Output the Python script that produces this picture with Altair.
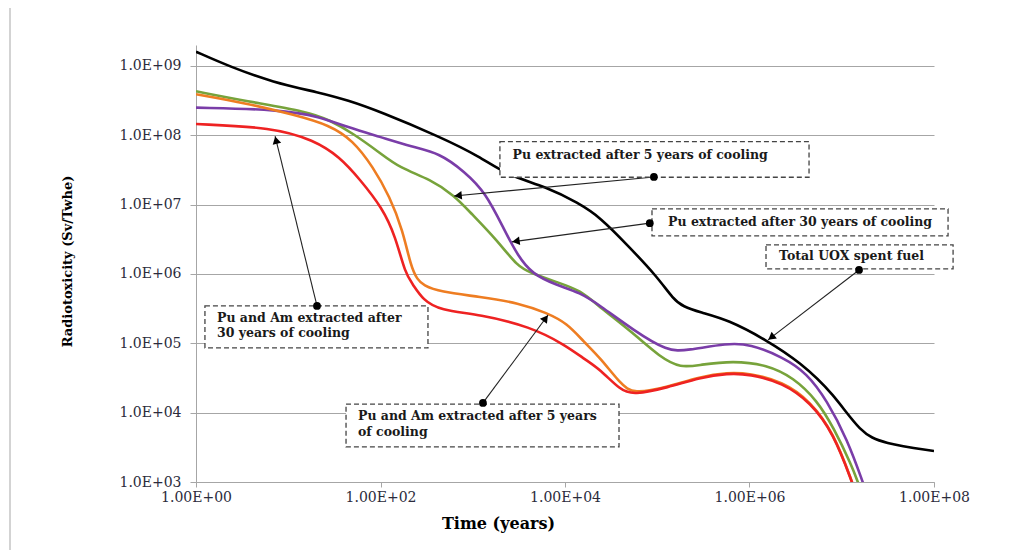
import math
import pandas as pd
import altair as alt

# ---------------- data ----------------
series_names = ["Total UOX spent fuel", "Pu extracted after 5 years",
                "Pu extracted after 30 years", "Pu and Am extracted after 5 years",
                "Pu and Am extracted after 30 years"]
series_colors = ["#000000", "#77A33B", "#7A3DA8", "#EE7D22", "#EE2222"]

total_t = [1, 2.3, 6.8, 22, 44, 98, 440, 1200, 2300, 6300, 1.4e4, 2.4e4, 4.9e4,
           1.0e5, 1.5e5, 1.9e5, 2.9e5, 5.8e5, 1.55e6, 3.5e6, 8.1e6, 1.6e7, 2.8e7, 1e8]
total_v = [1.6e9, 9.8e8, 5.8e8, 4.1e8, 3.2e8, 2.2e8, 9.5e7, 4.9e7, 2.7e7, 1.8e7, 1.05e7,
           6.6e6, 2.5e6, 9.1e5, 4.3e5, 3.4e5, 2.8e5, 2.2e5, 1.1e5, 5.4e4, 1.9e4, 5.1e3,
           3.6e3, 2.8e3]

pu5_t = [1, 3.5, 16, 28, 50, 98, 160, 350, 630, 950, 1820, 3100, 4200, 8100, 1.45e4,
         2.4e4, 5.5e4, 1.07e5, 1.8e5, 2.9e5, 6.6e5, 1.55e6, 3.0e6, 5.4e6, 8.1e6, 1.3e7,
         1.5e7, 1.7e7]
pu5_v = [4.3e8, 3.1e8, 2.2e8, 1.66e8, 1.07e8, 5.6e7, 3.4e7, 2.3e7, 1.35e7, 7.6e6, 3.1e6,
         1.26e6, 1.05e6, 7.6e5, 5.9e5, 3.3e5, 1.4e5, 6.3e4, 4.4e4, 4.9e4, 5.6e4, 4.9e4,
         3.2e4, 1.5e4, 6.2e3, 1.66e3, 980, 630]

pu30_t = [1, 8.1, 22, 44, 98, 220, 440, 810, 1380, 2200, 3100, 4400, 8100, 1.45e4,
          2.4e4, 5.5e4, 1.3e5, 2.1e5, 5.8e5, 1.0e6, 2.3e6, 4.2e6, 6.9e6, 1.15e7, 1.7e7,
          1.9e7]
pu30_v = [2.5e8, 2.35e8, 1.86e8, 1.3e8, 9.5e7, 6.8e7, 5.5e7, 3.0e7, 1.5e7, 4.3e6, 1.8e6,
          1.0e6, 6.9e5, 5.4e5, 3.5e5, 1.55e5, 7.6e4, 7.9e4, 1.0e5, 9.8e4, 6.3e4, 3.7e4,
          1.5e4, 4.1e3, 980, 630]

puam5_t = [1, 3.5, 12, 28, 50, 83, 126, 174, 214, 251, 290, 440, 1200, 3200, 6300, 1.05e4,
           1.6e4, 2.4e4, 4.0e4, 5.5e4, 1.3e5, 2.9e5, 5.8e5, 1.0e6, 2.3e6, 4.6e6, 8.1e6,
           1.3e7, 1.45e7]
puam5_v = [3.9e8, 2.9e8, 1.95e8, 1.4e8, 8.5e7, 3.5e7, 1.3e7, 4.3e6, 1.26e6, 8.3e5, 6.9e5,
           5.5e5, 4.7e5, 3.8e5, 2.75e5, 1.95e5, 1.05e5, 6.2e4, 2.6e4, 1.85e4, 2.35e4,
           3.3e4, 3.8e4, 3.7e4, 2.8e4, 1.45e4, 5.2e3, 1.0e3, 640]

puam30_t = [1, 6.8, 19, 36, 60, 105, 145, 186, 224, 290, 440, 1200, 4200, 1.0e4, 1.66e4,
            2.4e4, 4.0e4, 5.5e4, 1.3e5, 2.9e5, 5.8e5, 1.0e6, 2.3e6, 4.6e6, 8.1e6, 1.3e7,
            1.45e7]
puam30_v = [1.45e8, 1.3e8, 8.5e7, 4.9e7, 2.3e7, 8.9e6, 3.5e6, 1.0e6, 7.1e5, 4.2e5, 3.0e5,
            2.6e5, 1.74e5, 9.5e4, 5.8e4, 4.2e4, 2.1e4, 1.8e4, 2.3e4, 3.2e4, 3.7e4, 3.6e4,
            2.7e4, 1.4e4, 5.1e3, 980, 630]

x_tick_values = [1, 1e2, 1e4, 1e6, 1e8]
x_tick_labels = ["1.00E+00", "1.00E+02", "1.00E+04", "1.00E+06", "1.00E+08"]
y_tick_values = [1e3, 1e4, 1e5, 1e6, 1e7, 1e8, 1e9]
y_tick_labels = ["1.0E+03", "1.0E+04", "1.0E+05", "1.0E+06", "1.0E+07", "1.0E+08", "1.0E+09"]

# annotation boxes (data units): x0, x1, y0, y1
box_x0 = [1970, 8.77e4, 1.51e6, 1.25, 42.3]
box_x1 = [4.42e6, 1.42e8, 1.61e8, 327, 3.85e4]
box_y0 = [8.1e7, 8.67e6, 2.62e6, 3.46e5, 1.33e4]
box_y1 = [2.48e7, 3.53e6, 1.18e6, 8.57e4, 3.2e3]

label_text = ["Pu extracted  after 5 years  of cooling",
              "Pu extracted after 30 years of cooling",
              "Total UOX spent fuel",
              "Pu and Am extracted after", "30 years of cooling",
              "Pu and Am extracted  after 5 years", "of cooling"]
label_t = [2700, 1.31e5, 2.09e6, 1.69, 1.69, 57, 57]
label_v = [5.2e7, 5.6e6, 1.82e6, 2.32e5, 1.41e5, 9.0e3, 5.3e3]

# arrows: start dot -> arrow tip
dot_t = [9.2e4, 8.3e4, 1.54e7, 20.5, 1290]
dot_v = [2.5e7, 5.4e6, 1.14e6, 3.46e5, 1.38e4]
tip_t = [627, 2660, 1.59e6, 7.2, 6550]
tip_v = [1.33e7, 2.9e6, 1.12e5, 9.7e7, 2.56e5]

# ---------------- layout ----------------
W, H = 738, 437
X_DOM = [1, 1e8]
Y_DOM = [1e3, 2e9]
PX = W / (math.log10(X_DOM[1]) - math.log10(X_DOM[0]))
PY = H / (math.log10(Y_DOM[1]) - math.log10(Y_DOM[0]))
FONT = "DejaVu Serif"
GRID = "#a6a6a6"


def label_expr(vals, labels):
    expr = "''"
    for v, t in reversed(list(zip(vals, labels))):
        expr = f"(datum.value < {v * 3} ? '{t}' : {expr})"
    return expr


xscale = alt.Scale(type="log", domain=X_DOM, nice=False)
yscale = alt.Scale(type="log", domain=Y_DOM, nice=False)
xaxis = alt.Axis(values=x_tick_values, labelExpr=label_expr(x_tick_values, x_tick_labels),
                 grid=False, domainColor=GRID, tickColor=GRID, tickSize=5,
                 labelFont=FONT, labelFontSize=14, labelColor="#2b2b3b", labelPadding=3,
                 labelFlush=False, labelOverlap=False,
                 title="Time (years)", titleFont=FONT, titleFontSize=16,
                 titleFontWeight="bold", titleColor="black", titleX=302, titleY=46,
                 titleAlign="center", titleBaseline="alphabetic")
yaxis = alt.Axis(values=y_tick_values, labelExpr=label_expr(y_tick_values, y_tick_labels),
                 grid=True, gridColor=GRID, gridWidth=1, domainColor=GRID, tickColor=GRID,
                 tickSize=6, labelFont=FONT, labelFontSize=14, labelColor="#2b2b3b",
                 labelPadding=9, labelFlush=False, labelOverlap=False,
                 title="Radiotoxicity (Sv/Twhe)", titleFont=FONT, titleFontSize=13,
                 titleFontWeight="bold", titleColor="black", titleAngle=270,
                 titleX=-129, titleY=216, titleAlign="center", titleBaseline="middle")


def X(f):
    return alt.X(f, type="quantitative", scale=xscale, axis=xaxis)


def Y(f):
    return alt.Y(f, type="quantitative", scale=yscale, axis=yaxis)


# ---------------- frame ----------------
one = pd.DataFrame({"a": [0]})
frame_left = alt.Chart(one).mark_rule(color="#c4c4c4", strokeWidth=1.5).encode(
    x=alt.value(-186), y=alt.value(-38), y2=alt.value(530))
frame_top = alt.Chart(one).mark_rule(color="#c4c4c4", strokeWidth=1.5).encode(
    x=alt.value(-186), x2=alt.value(840), y=alt.value(-38))

# ---------------- curves ----------------
all_t = [total_t, pu5_t, pu30_t, puam5_t, puam30_t]
all_v = [total_v, pu5_v, pu30_v, puam5_v, puam30_v]
curves = {}
for name, col, ts, vs in zip(series_names, series_colors, all_t, all_v):
    df = pd.DataFrame({"t": ts, "v": vs, "s": name})
    curves[name] = alt.Chart(df).mark_line(
        clip=True, color=col, strokeWidth=2.6, interpolate="basis").encode(
        x=X("t"), y=Y("v"))

# ---------------- annotations ----------------
boxes = pd.DataFrame({"x0": box_x0, "x1": box_x1, "y0": box_y0, "y1": box_y1})
box_layer = alt.Chart(boxes).mark_rect(
    fill="white", stroke="#444444", strokeWidth=1.3, strokeDash=[5, 3]).encode(
    x=X("x0"), x2="x1", y=Y("y0"), y2="y1")

labels = pd.DataFrame({"t": label_t, "v": label_v, "txt": label_text})
text_layer = alt.Chart(labels).mark_text(
    align="left", baseline="middle", font=FONT, fontWeight="bold", fontSize=12.5,
    color="#1a1a1a").encode(x=X("t"), y=Y("v"), text="txt:N")

arrows = pd.DataFrame({"t0": dot_t, "v0": dot_v, "t1": tip_t, "v1": tip_v})
R_HEAD = 4.0
angs, ht, hv = [], [], []
for a, b, c, d in zip(dot_t, dot_v, tip_t, tip_v):
    dx = (math.log10(c) - math.log10(a)) * PX
    dy = -(math.log10(d) - math.log10(b)) * PY
    L = math.hypot(dx, dy)
    ux, uy = dx / L, dy / L
    angs.append(math.degrees(math.atan2(ux, -uy)) % 360)
    ht.append(10 ** (math.log10(c) - ux * R_HEAD / PX))
    hv.append(10 ** (math.log10(d) + uy * R_HEAD / PY))
arrows["ang"] = angs
arrows["ht"] = ht
arrows["hv"] = hv

arrow_lines = alt.Chart(arrows).mark_rule(color="#222222", strokeWidth=1.1).encode(
    x=X("t0"), x2="t1", y=Y("v0"), y2="v1")
arrow_dots = alt.Chart(arrows).mark_point(
    filled=True, shape="circle", size=60, color="black", opacity=1).encode(
    x=X("t0"), y=Y("v0"))
arrow_heads = alt.Chart(arrows).mark_point(
    filled=True, shape="triangle-up", size=75, color="black", opacity=1).encode(
    x=X("ht"), y=Y("hv"), angle=alt.Angle("ang:Q", scale=None))

chart = alt.layer(
    frame_left, frame_top,
    curves[series_names[1]], curves[series_names[2]],
    curves[series_names[3]], curves[series_names[4]], curves[series_names[0]],
    arrow_lines, box_layer, text_layer, arrow_dots, arrow_heads,
).properties(
    width=W, height=H,
    autosize=alt.AutoSizeParams(type="none"),
    padding={"left": 188, "top": 37, "right": 81, "bottom": 68},
    background="white",
).configure_view(stroke=None)

chart.save("out.html", embed_options={"renderer": "svg", "actions": False})
